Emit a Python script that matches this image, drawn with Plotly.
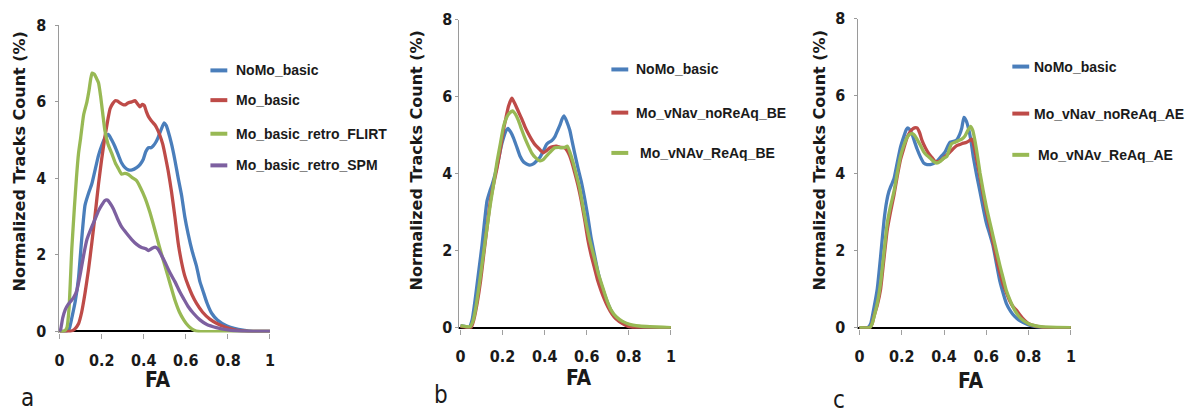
import plotly.graph_objects as go

W, H = 1193, 419

# ---------------- data: panel a ----------------
names_a = ["NoMo_basic", "Mo_basic", "Mo_basic_retro_FLIRT", "Mo_basic_retro_SPM"]

fa_a_nomo = [0, 0.03, 0.045, 0.06, 0.075, 0.09, 0.105, 0.121, 0.14, 0.153, 0.17, 0.185, 0.2, 0.216,
             0.232, 0.248, 0.264, 0.28, 0.295, 0.311, 0.327, 0.345, 0.366, 0.382, 0.398, 0.41, 0.422,
             0.435, 0.445, 0.458, 0.469, 0.483, 0.497, 0.507, 0.516, 0.532, 0.548, 0.564, 0.58, 0.595,
             0.611, 0.63, 0.651, 0.667, 0.682, 0.7, 0.722, 0.75, 0.793, 0.83, 0.872, 0.92, 1.0]
cnt_a_nomo = [0, 0, 0.05, 0.4, 0.8, 1.4, 2.4, 3.3, 3.65, 3.85, 4.25, 4.6, 4.85, 5.07,
              5.15, 5.0, 4.82, 4.6, 4.4, 4.28, 4.22, 4.22, 4.28, 4.36, 4.5, 4.7, 4.8,
              4.8, 4.85, 4.95, 5.08, 5.28, 5.45, 5.38, 5.23, 4.9, 4.48, 4.0, 3.55, 3.0,
              2.55, 2.1, 1.7, 1.3, 1.05, 0.75, 0.48, 0.3, 0.15, 0.08, 0.03, 0.0, 0.0]

fa_a_mo = [0, 0.03, 0.05, 0.07, 0.09, 0.105, 0.121, 0.137, 0.153, 0.17, 0.185, 0.2, 0.216, 0.23,
           0.24, 0.252, 0.264, 0.275, 0.287, 0.3, 0.311, 0.325, 0.343, 0.358, 0.37, 0.382, 0.393,
           0.403, 0.412, 0.422, 0.437, 0.453, 0.465, 0.477, 0.49, 0.5, 0.516, 0.532, 0.548, 0.564,
           0.58, 0.595, 0.611, 0.63, 0.651, 0.68, 0.714, 0.75, 0.793, 0.83, 0.87, 0.9, 1.0]
cnt_a_mo = [0, 0, 0, 0.05, 0.2, 0.5, 1.0, 1.6, 2.3, 3.1, 3.85, 4.5, 5.1, 5.55,
            5.82, 5.95, 6.03, 6.02, 5.97, 5.93, 5.92, 5.97, 6.0, 6.03, 5.95, 5.87, 5.93,
            5.9, 5.75, 5.62, 5.5, 5.4, 5.28, 5.12, 4.9, 4.65, 4.2, 3.65, 3.0, 2.3,
            1.8, 1.45, 1.2, 0.95, 0.73, 0.5, 0.32, 0.2, 0.1, 0.04, 0.01, 0, 0]

fa_a_flirt = [0, 0.02, 0.035, 0.045, 0.058, 0.07, 0.08, 0.09, 0.1, 0.114, 0.13, 0.14, 0.148, 0.155,
              0.165, 0.175, 0.185, 0.195, 0.205, 0.216, 0.23, 0.248, 0.265, 0.28, 0.295, 0.31, 0.327,
              0.345, 0.366, 0.385, 0.406, 0.43, 0.453, 0.475, 0.5, 0.525, 0.548, 0.57, 0.59, 0.603,
              0.62, 0.64, 0.66, 1.0]
cnt_a_flirt = [0, 0, 0.1, 0.6, 2.15, 3.2, 4.0, 4.65, 5.05, 5.65, 6.0, 6.3, 6.6, 6.75,
               6.72, 6.62, 6.5, 6.15, 5.7, 5.23, 4.9, 4.65, 4.4, 4.25, 4.11, 4.13, 4.1,
               4.02, 3.94, 3.75, 3.49, 3.1, 2.65, 2.2, 1.73, 1.25, 0.82, 0.5, 0.3, 0.2,
               0.1, 0.03, 0, 0]

fa_a_spm = [0, 0.005, 0.015, 0.027, 0.04, 0.058, 0.07, 0.082, 0.1, 0.114, 0.13, 0.153, 0.17, 0.185,
            0.2, 0.215, 0.228, 0.24, 0.256, 0.275, 0.295, 0.32, 0.343, 0.365, 0.39, 0.41, 0.422,
            0.44, 0.455, 0.468, 0.485, 0.5, 0.517, 0.53, 0.548, 0.57, 0.59, 0.611, 0.635, 0.667,
            0.7, 0.745, 0.8, 0.85, 0.9, 1.0]
cnt_a_spm = [0, 0.05, 0.35, 0.57, 0.7, 0.82, 0.92, 1.07, 1.55, 1.98, 2.4, 2.73, 2.95, 3.15,
             3.3, 3.42, 3.43, 3.35, 3.2, 2.95, 2.73, 2.55, 2.4, 2.28, 2.19, 2.16, 2.11,
             2.17, 2.2, 2.15, 1.98, 1.82, 1.62, 1.48, 1.3, 1.05, 0.85, 0.65, 0.48, 0.3,
             0.18, 0.1, 0.04, 0.01, 0, 0]

# ---------------- data: panel b ----------------
names_b = ["NoMo_basic", "Mo_vNav_noReAq_BE", "Mo_vNAv_ReAq_BE"]

fa_b_nomo = [0, 0.02, 0.04, 0.055, 0.071, 0.085, 0.102, 0.115, 0.126, 0.14, 0.15, 0.165, 0.181, 0.193,
             0.204, 0.215, 0.225, 0.238, 0.252, 0.268, 0.283, 0.3, 0.314, 0.33, 0.346, 0.36, 0.377,
             0.395, 0.408, 0.417, 0.433, 0.448, 0.46, 0.472, 0.483, 0.492, 0.505, 0.519, 0.53, 0.542,
             0.558, 0.574, 0.59, 0.605, 0.62, 0.637, 0.652, 0.668, 0.685, 0.7, 0.715, 0.731, 0.75,
             0.78, 0.8, 0.83, 0.87, 0.9, 1.0]
cnt_b_nomo = [0.05, 0.03, 0, 0.2, 0.79, 1.4, 2.13, 2.8, 3.29, 3.55, 3.71, 4.0, 4.38, 4.7,
              4.92, 5.1, 5.17, 5.08, 4.92, 4.68, 4.45, 4.3, 4.25, 4.22, 4.25, 4.32, 4.42,
              4.6, 4.75, 4.8, 4.85, 4.95, 5.1, 5.25, 5.42, 5.5, 5.35, 5.13, 4.85, 4.54,
              4.15, 3.79, 3.35, 2.88, 2.35, 1.88, 1.48, 1.13, 0.85, 0.63, 0.45, 0.29, 0.2,
              0.12, 0.07, 0.03, 0.01, 0, 0]

fa_b_nore = [0, 0.03, 0.05, 0.063, 0.079, 0.095, 0.11, 0.126, 0.142, 0.158, 0.173, 0.19, 0.204, 0.216,
             0.228, 0.244, 0.255, 0.267, 0.28, 0.291, 0.306, 0.322, 0.338, 0.354, 0.372, 0.393, 0.41,
             0.425, 0.44, 0.456, 0.475, 0.495, 0.508, 0.519, 0.53, 0.542, 0.558, 0.574, 0.59, 0.605,
             0.62, 0.637, 0.652, 0.668, 0.685, 0.7, 0.72, 0.74, 0.77, 0.8, 0.83, 1.0]
cnt_b_nore = [0.03, 0, 0, 0.2, 0.63, 1.2, 1.88, 2.6, 3.29, 3.75, 4.13, 4.65, 5.13, 5.45,
              5.75, 5.96, 5.85, 5.71, 5.55, 5.42, 5.22, 5.04, 4.88, 4.75, 4.65, 4.54, 4.6,
              4.67, 4.7, 4.71, 4.68, 4.67, 4.58, 4.46, 4.28, 4.04, 3.7, 3.29, 2.8, 2.29,
              1.9, 1.54, 1.22, 0.96, 0.72, 0.54, 0.35, 0.22, 0.1, 0.02, 0, 0]

fa_b_re = [0, 0.03, 0.045, 0.058, 0.071, 0.09, 0.11, 0.126, 0.142, 0.158, 0.173, 0.19, 0.204, 0.217,
           0.228, 0.247, 0.26, 0.275, 0.29, 0.306, 0.322, 0.338, 0.355, 0.377, 0.393, 0.409, 0.43,
           0.448, 0.465, 0.48, 0.495, 0.508, 0.52, 0.535, 0.55, 0.566, 0.58, 0.597, 0.615, 0.637,
           0.655, 0.676, 0.695, 0.715, 0.74, 0.77, 0.8, 0.85, 0.9, 1.0]
cnt_b_re = [0.05, 0.02, 0.02, 0.15, 0.46, 1.15, 1.96, 2.6, 3.21, 3.75, 4.29, 4.8, 5.21, 5.43,
            5.54, 5.63, 5.55, 5.38, 5.15, 4.92, 4.72, 4.54, 4.42, 4.33, 4.36, 4.46, 4.58,
            4.67, 4.68, 4.67, 4.68, 4.71, 4.55, 4.29, 3.98, 3.63, 3.2, 2.71, 2.25, 1.79,
            1.4, 1.04, 0.72, 0.46, 0.28, 0.16, 0.09, 0.04, 0.02, 0]

# ---------------- data: panel c ----------------
names_c = ["NoMo_basic", "Mo_vNav_noReAq_AE", "Mo_vNAv_ReAq_AE"]

fa_c_nomo = [0, 0.04, 0.053, 0.068, 0.084, 0.1, 0.116, 0.128, 0.139, 0.15, 0.163, 0.178, 0.194, 0.21,
             0.222, 0.229, 0.238, 0.249, 0.26, 0.272, 0.288, 0.304, 0.32, 0.335, 0.35, 0.366, 0.385,
             0.405, 0.418, 0.429, 0.445, 0.46, 0.474, 0.484, 0.494, 0.505, 0.515, 0.527, 0.538, 0.554,
             0.57, 0.585, 0.601, 0.617, 0.632, 0.648, 0.664, 0.68, 0.695, 0.715, 0.734, 0.76, 0.8,
             0.84, 0.88, 1.0]
cnt_c_nomo = [0, 0, 0.1, 0.5, 1.0, 1.85, 2.77, 3.25, 3.52, 3.68, 3.85, 4.25, 4.67, 4.95,
              5.13, 5.17, 5.12, 5.0, 4.82, 4.63, 4.42, 4.26, 4.22, 4.22, 4.25, 4.3, 4.42,
              4.55, 4.7, 4.8, 4.82, 4.86, 5.0, 5.17, 5.44, 5.35, 5.17, 4.85, 4.43, 3.95,
              3.52, 3.1, 2.69, 2.4, 2.11, 1.65, 1.2, 0.88, 0.62, 0.42, 0.29, 0.17, 0.07,
              0.02, 0, 0]

fa_c_nore = [0, 0.05, 0.06, 0.069, 0.085, 0.1, 0.115, 0.131, 0.147, 0.163, 0.178, 0.194, 0.21, 0.225,
             0.238, 0.249, 0.26, 0.272, 0.284, 0.296, 0.312, 0.327, 0.343, 0.358, 0.374, 0.39, 0.41,
             0.429, 0.445, 0.46, 0.484, 0.507, 0.52, 0.531, 0.542, 0.554, 0.57, 0.585, 0.6, 0.617,
             0.632, 0.648, 0.664, 0.679, 0.695, 0.71, 0.725, 0.742, 0.77, 0.8, 0.84, 0.88, 1.0]
cnt_c_nore = [0, 0, 0.1, 0.3, 0.6, 1.0, 1.75, 2.52, 3.0, 3.43, 3.9, 4.35, 4.65, 4.92,
              5.05, 5.13, 5.17, 5.17, 5.05, 4.84, 4.65, 4.51, 4.4, 4.3, 4.3, 4.35, 4.45,
              4.55, 4.64, 4.71, 4.76, 4.8, 4.84, 4.88, 4.7, 4.35, 3.9, 3.43, 3.0, 2.61,
              2.2, 1.78, 1.42, 1.12, 0.9, 0.7, 0.55, 0.45, 0.25, 0.1, 0.03, 0, 0]

fa_c_re = [0, 0.05, 0.06, 0.07, 0.085, 0.1, 0.115, 0.131, 0.147, 0.163, 0.178, 0.194, 0.21, 0.225,
           0.237, 0.249, 0.26, 0.272, 0.288, 0.304, 0.32, 0.335, 0.35, 0.366, 0.382, 0.397, 0.413,
           0.425, 0.436, 0.452, 0.468, 0.484, 0.499, 0.512, 0.526, 0.536, 0.546, 0.558, 0.57, 0.585,
           0.601, 0.617, 0.632, 0.648, 0.664, 0.68, 0.695, 0.715, 0.734, 0.76, 0.8, 0.85, 0.9, 1.0]
cnt_c_re = [0, 0, 0.1, 0.3, 0.65, 1.16, 1.9, 2.69, 3.15, 3.52, 3.98, 4.43, 4.72, 4.92,
            5.0, 5.02, 4.98, 4.88, 4.72, 4.55, 4.45, 4.38, 4.3, 4.26, 4.3, 4.38, 4.43,
            4.62, 4.76, 4.8, 4.84, 4.88, 4.96, 5.1, 5.21, 5.1, 4.84, 4.45, 4.01, 3.55,
            3.1, 2.72, 2.36, 1.98, 1.61, 1.27, 0.95, 0.67, 0.45, 0.25, 0.1, 0.03, 0.01, 0]

fa_ticks = [0, 0.2, 0.4, 0.6, 0.8, 1.0]
fa_ticklabels = ["0", "0.2", "0.4", "0.6", "0.8", "1"]
count_ticks = [0, 2, 4, 6, 8]
panel_letters = ["a", "b", "c"]
x_title = "FA"
y_title = "Normalized Tracks Count (%)"

# ---------------- styling ----------------
BLUE, RED, GREEN, PURPLE = "#4a7ebb", "#be4b48", "#98b954", "#7d60a0"
TEXT = "#1a1a1a"
NARROW = "Liberation Sans Narrow, Arial Narrow, DejaVu Sans Condensed, sans-serif"
TICK_FONT = dict(family=NARROW, size=16, color=TEXT, weight="bold")
Y_MIN = -0.03


def px(x):
    return x / W


def py(y):
    return 1 - y / H


# pixel frame of each panel: x of FA=0, x of FA=1, y of count=0, y of count=8
frames = [
    dict(x0=56, x1=268, y0=336, y8=17, standoff=5),
    dict(x0=460, x1=672, y0=332, y8=11, standoff=0),
    dict(x0=862, x1=1075, y0=332, y8=10, standoff=6),
]

panels = [
    (names_a, [(fa_a_nomo, cnt_a_nomo), (fa_a_mo, cnt_a_mo), (fa_a_flirt, cnt_a_flirt),
               (fa_a_spm, cnt_a_spm)], [BLUE, RED, GREEN, PURPLE]),
    (names_b, [(fa_b_nomo, cnt_b_nomo), (fa_b_nore, cnt_b_nore), (fa_b_re, cnt_b_re)],
     [BLUE, RED, GREEN]),
    (names_c, [(fa_c_nomo, cnt_c_nomo), (fa_c_nore, cnt_c_nore), (fa_c_re, cnt_c_re)],
     [BLUE, RED, GREEN]),
]

fig = go.Figure()
layout = {}
for i, (names, series, colors) in enumerate(panels):
    f = frames[i]
    sfx = "" if i == 0 else str(i + 1)
    xspan = f["x1"] - f["x0"]
    ppu = (f["y0"] - f["y8"]) / 8.0
    x_lo = -0.005
    layout["xaxis" + sfx] = dict(
        domain=[px(f["x0"] + x_lo * xspan), px(f["x1"])], range=[x_lo, 1.0],
        anchor="y" + sfx, tickvals=fa_ticks, ticktext=fa_ticklabels,
        showgrid=False, zeroline=False, showline=False,
        ticks="outside", ticklen=5, tickwidth=1, tickcolor="#a0a0a0",
        tickfont=TICK_FONT, ticklabelstandoff=8, fixedrange=True,
    )
    layout["yaxis" + sfx] = dict(
        domain=[py(f["y0"] - Y_MIN * ppu), py(f["y8"])], range=[Y_MIN, 8],
        anchor="x" + sfx, tickvals=count_ticks, showgrid=False,
        zeroline=True, zerolinecolor="#000000", zerolinewidth=2,
        showline=True, linecolor="#9a9a9a", linewidth=1,
        ticks="outside", ticklen=3, tickwidth=1, tickcolor="#9a9a9a",
        tickfont=TICK_FONT, ticklabelstandoff=f["standoff"], fixedrange=True,
    )
    for (xs, ys), name, col in zip(series, names, colors):
        fig.add_trace(go.Scatter(
            x=xs, y=ys, name=name, mode="lines", showlegend=False,
            line=dict(color=col, width=3.3, shape="spline", smoothing=0.5),
            xaxis="x" + sfx, yaxis="y" + sfx, hoverinfo="skip",
        ))

shapes = []
annotations = []

# hand-placed legends: (line start x, text start x, row y positions)
legend_boxes = [
    (208, 232, [64, 95, 130, 163]),
    (612, 635, [63, 108, 150]),
    (1016, 1036, [60, 109, 152]),
]
for (names, _, colors), (lx, tx, rows) in zip(panels, legend_boxes):
    for j, (name, col, yy) in enumerate(zip(names, colors, rows)):
        shapes.append(dict(type="line", xref="paper", yref="paper",
                           x0=px(lx), x1=px(lx + 17), y0=py(yy), y1=py(yy),
                           line=dict(color=col, width=4)))
        nudge = 4 if j == 2 and len(names) == 3 else 0
        annotations.append(dict(text=name, xref="paper", yref="paper",
                                x=px(tx + nudge), y=py(yy), xanchor="left", yanchor="middle",
                                showarrow=False,
                                font=dict(family="Liberation Sans, Arial, sans-serif",
                                          size=14, color=TEXT, weight="bold")))

# axis titles and panel letters
y_title_pos = [(16, 159), (416, 158), (822, 158)]
x_title_pos = [(155, 387), (579, 385), (974, 388)]
letter_pos = [(24, 405), (440, 402), (841, 408)]
for k in range(3):
    yx, yy = y_title_pos[k]
    annotations.append(dict(text=y_title, xref="paper", yref="paper", x=px(yx), y=py(yy),
                            xanchor="center", yanchor="middle", textangle=-90, showarrow=False,
                            font=dict(family="DejaVu Sans, sans-serif", size=16,
                                      color=TEXT, weight="bold")))
    fx, fy = x_title_pos[k]
    annotations.append(dict(text=x_title, xref="paper", yref="paper", x=px(fx), y=py(fy),
                            xanchor="center", yanchor="middle", showarrow=False,
                            font=dict(family=NARROW, size=21, color=TEXT, weight="bold")))
    lx, ly = letter_pos[k]
    annotations.append(dict(text=panel_letters[k], xref="paper", yref="paper", x=px(lx),
                            y=py(ly), xanchor="center", yanchor="middle", showarrow=False,
                            font=dict(family=NARROW, size=24, color=TEXT)))

fig.update_layout(
    width=W, height=H, margin=dict(l=0, r=0, t=0, b=0),
    paper_bgcolor="white", plot_bgcolor="white",
    showlegend=False, shapes=shapes, annotations=annotations, **layout,
)

fig.write_html("out.html", config={"displayModeBar": False})
